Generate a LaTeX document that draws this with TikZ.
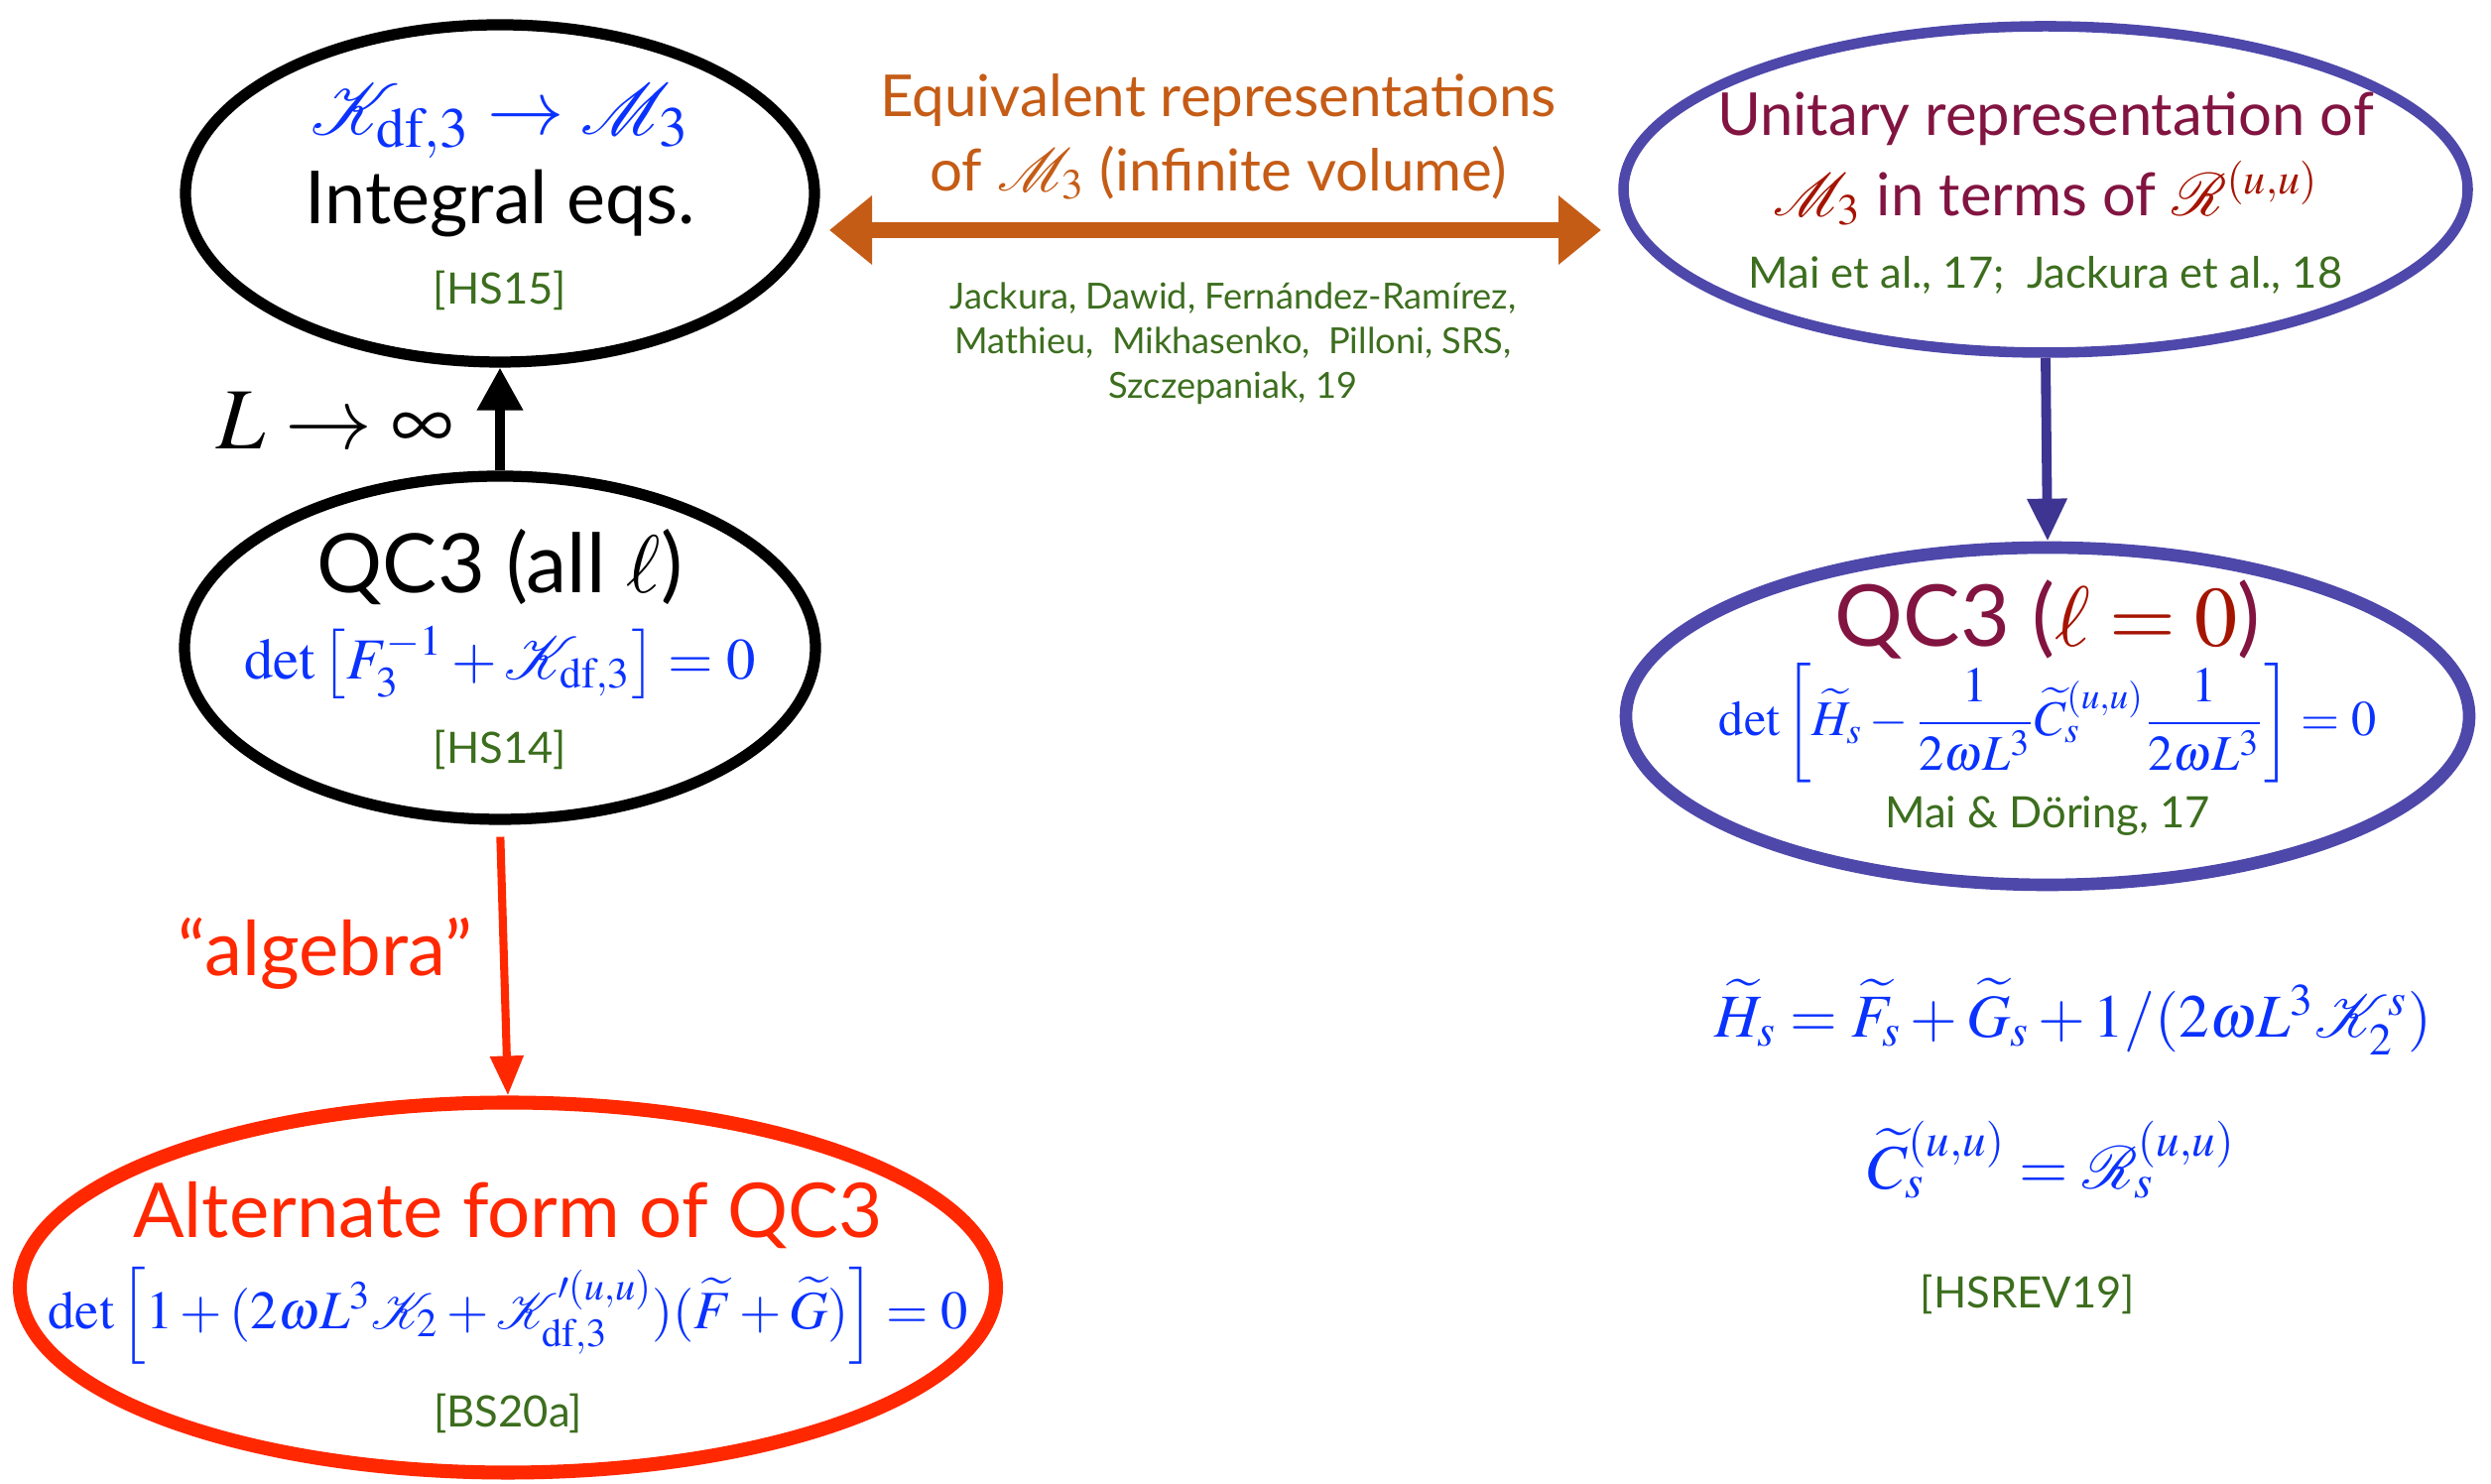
\documentclass[tikz,border=0pt]{standalone}
\usepackage{amsmath}
\usepackage{mathptmx}
\usepackage{mathrsfs}
\usepackage[no-math]{fontspec}
\setmainfont{Lato}
\usepackage{tikz}
\usetikzlibrary{arrows.meta, shapes.geometric, positioning}

\definecolor{eqblue}{RGB}{10,50,255}
\definecolor{refgreen}{RGB}{60,110,30}
\definecolor{reporange}{RGB}{197,92,22}
\definecolor{maroon}{RGB}{130,20,65}
\definecolor{darkred}{RGB}{165,20,0}
\definecolor{ovalpurple}{RGB}{78,72,170}
\definecolor{arrowpurple}{RGB}{62,52,145}
\definecolor{altred}{RGB}{255,40,0}

\begin{document}
\begin{tikzpicture}[
            font=\fontsize{20}{24}\selectfont,
            oval/.style   ={ellipse, inner sep=0pt},
            title/.style  ={font=\fontsize{21}{25}\selectfont},
            subt/.style   ={font=\fontsize{17}{21}\selectfont, text=maroon},
            cite/.style   ={font=\fontsize{12.4}{15}\selectfont, text=refgreen},
            eqn/.style    ={font=\fontsize{17}{21}\selectfont, text=eqblue},
            x=1cm, y=1cm
        ]
        \useasboundingbox (0,0) rectangle (25.11,14.96);

        % left column
        \node[oval, draw=black, line width=3.2pt, minimum width=6.34cm, minimum height=3.40cm] (intEq) at (5.04,13.01) {};
        \node[eqn, font=\fontsize{22}{26}\selectfont] (intEqMap) at (5.04,13.74) {$\mathscr{K}_{\mathrm{df},3}\to\mathscr{M}_3$};
        \node[title] (intEqName) at (5.04,12.91) {Integral eqs.};
        \node[cite] (intEqRef) at (5.04,12.03) {[HS15]};

        \node[oval, draw=black, line width=3.2pt, minimum width=6.36cm, minimum height=3.46cm] (qcAll) at (5.04,8.43) {};
        \node[title, font=\fontsize{23.5}{28}\selectfont] (qcAllName) at (5.04,9.24) {QC3 (all $\ell$)};
        \node[eqn, font=\fontsize{16.7}{20}\selectfont] (qcAllEq) at (5.04,8.28) {$\det\left[F_3^{-1}+\mathscr{K}_{\mathrm{df},3}\right]=0$};
        \node[cite] (qcAllRef) at (5.04,7.40) {[HS14]};

        \node[oval, draw=altred, line width=4pt, minimum width=9.84cm, minimum height=3.73cm] (altQC) at (5.12,1.98) {};
        \node[title, text=altred, font=\fontsize{21.7}{26}\selectfont] (altQCName) at (5.12,2.71) {Alternate form of QC3};
        \node[eqn, font=\fontsize{15.5}{19}\selectfont] (altQCEq) at (5.12,1.70)
              {$\det\left[1+(2\omega L^3\mathscr{K}_2+\mathscr{K}'^{(u,u)}_{\mathrm{df},3})(\widetilde{F}+\widetilde{G})\right]=0$};
        \node[cite] (altQCRef) at (5.12,0.71) {[BS20a]};

        \draw[-{Triangle[width=0.44cm,length=0.43cm]}, line width=2.85pt] (qcAll.north) -- (intEq.south);
        \node[font=\fontsize{25}{30}\selectfont] (limLbl) at (3.38,10.72) {$L\to\infty$};

        \draw[-{Triangle[width=0.32cm,length=0.40cm]}, draw=altred, line width=2.3pt, shorten <=0.12cm] (qcAll.south) -- (altQC.north);
        \node[title, text=altred, font=\fontsize{21.7}{26}\selectfont] (algLbl) at (3.28,5.35) {``algebra''};

        % right column
        \node[oval, draw=ovalpurple, line width=3pt, minimum width=8.51cm, minimum height=3.29cm] (unitRep) at (20.62,13.05) {};
        \node[subt] (unitRepA) at (20.62,13.76) {Unitary representation of};
        \node[subt] (unitRepB) at (20.62,13.01)
              {\textcolor{darkred}{$\mathscr{M}_3$} in terms of \textcolor{darkred}{$\mathscr{R}^{(u,u)}$}};
        \node[cite] (unitRepRef) at (20.62,12.19) {Mai et al., 17;\ \ Jackura et al., 18};

        \node[oval, draw=ovalpurple, line width=3.6pt, minimum width=8.50cm, minimum height=3.40cm] (qcZero) at (20.64,7.74) {};
        \node[title, text=maroon, font=\fontsize{24.5}{29}\selectfont] (qcZeroName) at (20.64,8.71) {QC3 (\textcolor{darkred}{$\ell=0$})};
        \node[eqn, font=\fontsize{14.3}{17}\selectfont] (qcZeroEq) at (20.64,7.67)
              {$\det\left[\widetilde{H}_s-\dfrac{1}{2\omega L^3}\widetilde{C}_s^{(u,u)}\dfrac{1}{2\omega L^3}\right]=0$};
        \node[cite] (qcZeroRef) at (20.64,6.73) {Mai \& Döring, 17};

        \draw[-{Triangle[width=0.38cm,length=0.43cm]}, draw=arrowpurple, line width=2.8pt] (unitRep.south) -- (qcZero.north);

        \node[eqn, font=\fontsize{17.5}{21}\selectfont] (hDef) at (20.90,4.71) {$\widetilde{H}_s=\widetilde{F}_s+\widetilde{G}_s+1/(2\omega L^3\mathscr{K}_2^s)$};
        \node[eqn, font=\fontsize{18.1}{22}\selectfont] (cDef) at (20.68,3.27) {$\widetilde{C}_s^{(u,u)}=\mathscr{R}_s^{(u,u)}$};
        \node[cite] (revRef) at (20.44,1.91) {[HSREV19]};

        % equivalence between the two representations
        \coordinate (repL) at (8.36,12.64);
        \coordinate (repR) at (16.14,12.64);
        \draw[{Triangle[width=0.67cm,length=0.43cm]}-{Triangle[width=0.67cm,length=0.43cm]}, draw=reporange, line width=4.3pt] (repL) -- (repR);
        \node[subt, text=reporange, align=center, font=\fontsize{16.6}{21.3}\selectfont] (repLbl) at (12.28,13.58)
              {Equivalent representations\\of $\mathscr{M}_3$ (infinite volume)};
        \node[cite, align=center, font=\fontsize{10.3}{12.8}\selectfont] (repRef) at (12.43,11.50)
              {Jackura, Dawid, Fernández-Ramírez,\\Mathieu,\ \ Mikhasenko,\ \ Pilloni, SRS,\\Szczepaniak, 19};

    \end{tikzpicture}
\end{document}
